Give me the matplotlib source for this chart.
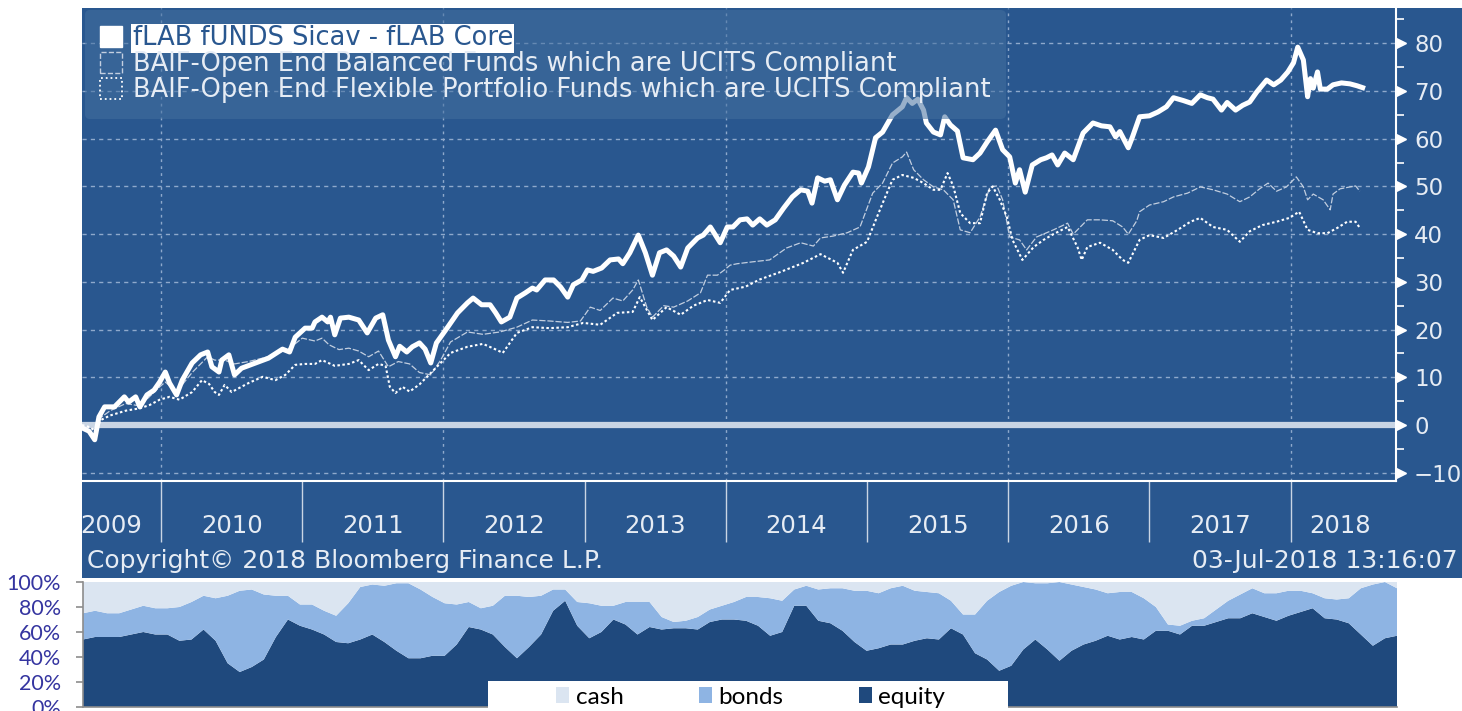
import numpy as np
import matplotlib.pyplot as plt
from matplotlib.patches import Patch, Rectangle
from matplotlib.ticker import MultipleLocator, FuncFormatter

# --- performance lines (date as decimal year, cumulative % return) ---
core = [(2009.44, -0.6), (2009.49, -1.3), (2009.53, -3.1), (2009.56, 1.7), (2009.60, 3.8), (2009.67, 3.8),
        (2009.74, 5.9), (2009.77, 4.8), (2009.82, 5.9), (2009.85, 3.8), (2009.90, 6.3), (2009.95, 7.3),
        (2009.99, 9.0), (2010.03, 11.1), (2010.06, 8.8), (2010.11, 6.3), (2010.15, 9.4), (2010.22, 13.0),
        (2010.28, 14.7), (2010.33, 15.3), (2010.36, 12.2), (2010.41, 11.1), (2010.43, 13.6), (2010.48, 14.7),
        (2010.52, 10.5), (2010.57, 11.9), (2010.67, 13.0), (2010.76, 14.0), (2010.86, 15.9), (2010.91, 15.3),
        (2010.95, 18.4), (2011.02, 20.3), (2011.07, 20.3), (2011.09, 21.6), (2011.14, 22.6), (2011.18, 21.6),
        (2011.20, 22.6), (2011.23, 18.9), (2011.27, 22.4), (2011.33, 22.6), (2011.40, 22.0), (2011.46, 19.3),
        (2011.52, 22.4), (2011.57, 23.1), (2011.61, 17.8), (2011.66, 14.3), (2011.69, 16.5), (2011.74, 15.3),
        (2011.78, 16.4), (2011.83, 17.2), (2011.87, 15.9), (2011.91, 13.0), (2011.95, 17.2), (2012.03, 20.5),
        (2012.10, 23.5), (2012.17, 25.6), (2012.21, 26.6), (2012.27, 25.2), (2012.33, 25.2), (2012.37, 23.5),
        (2012.41, 21.6), (2012.47, 22.6), (2012.52, 26.6), (2012.58, 27.7), (2012.63, 28.7), (2012.66, 28.3),
        (2012.72, 30.4), (2012.78, 30.4), (2012.83, 28.9), (2012.88, 26.8), (2012.92, 29.4), (2012.98, 30.4),
        (2013.02, 32.5), (2013.06, 32.2), (2013.12, 32.9), (2013.18, 34.6), (2013.24, 34.8), (2013.27, 33.8),
        (2013.32, 36.1), (2013.38, 39.8), (2013.43, 36.1), (2013.48, 31.4), (2013.53, 36.1), (2013.58, 36.7),
        (2013.63, 35.4), (2013.68, 33.1), (2013.73, 37.1), (2013.80, 39.2), (2013.84, 39.8), (2013.89, 41.5),
        (2013.96, 38.2), (2014.01, 41.5), (2014.05, 41.5), (2014.10, 43.0), (2014.15, 43.2), (2014.19, 41.9),
        (2014.24, 43.2), (2014.29, 41.9), (2014.35, 43.0), (2014.41, 45.5), (2014.47, 47.8), (2014.53, 49.3),
        (2014.58, 49.0), (2014.61, 46.5), (2014.65, 51.8), (2014.70, 51.1), (2014.74, 51.4), (2014.79, 47.2),
        (2014.84, 50.3), (2014.90, 53.0), (2014.94, 52.8), (2014.96, 50.7), (2015.01, 54.1), (2015.06, 60.2),
        (2015.11, 61.4), (2015.18, 65.0), (2015.25, 66.7), (2015.28, 68.6), (2015.32, 67.4), (2015.36, 68.3),
        (2015.40, 66.0), (2015.42, 63.3), (2015.47, 61.4), (2015.52, 60.8), (2015.55, 64.6), (2015.59, 62.9),
        (2015.64, 61.6), (2015.68, 56.0), (2015.75, 55.6), (2015.80, 57.0), (2015.85, 59.3), (2015.91, 61.8),
        (2015.96, 57.7), (2016.01, 56.2), (2016.05, 50.7), (2016.08, 53.5), (2016.12, 48.8), (2016.17, 54.5),
        (2016.23, 55.6), (2016.27, 56.0), (2016.31, 56.6), (2016.35, 54.5), (2016.40, 57.0), (2016.46, 55.6),
        (2016.53, 61.2), (2016.60, 63.3), (2016.66, 62.7), (2016.72, 62.5), (2016.76, 60.4), (2016.79, 61.5),
        (2016.85, 58.1), (2016.88, 60.4), (2016.93, 64.6), (2017.00, 64.8), (2017.06, 65.6), (2017.12, 66.7),
        (2017.17, 68.6), (2017.24, 68.0), (2017.30, 67.4), (2017.36, 69.2), (2017.41, 68.6), (2017.45, 68.3),
        (2017.51, 66.0), (2017.55, 67.6), (2017.61, 66.0), (2017.66, 67.0), (2017.71, 67.7), (2017.76, 69.8),
        (2017.83, 72.3), (2017.88, 71.3), (2017.93, 72.3), (2017.98, 74.0), (2018.02, 75.9), (2018.05, 79.2),
        (2018.09, 76.5), (2018.12, 68.8), (2018.14, 72.6), (2018.16, 70.6), (2018.19, 74.0), (2018.21, 70.4),
        (2018.26, 70.4), (2018.30, 71.3), (2018.36, 71.7), (2018.42, 71.5), (2018.47, 71.1), (2018.51, 70.7)]

balanced = [(2009.44, 0.0), (2009.50, -0.5), (2009.54, -1.0), (2009.57, 1.5), (2009.64, 3.0), (2009.75, 4.5),
            (2009.85, 4.0), (2009.92, 6.0), (2009.99, 8.0), (2010.03, 9.0), (2010.11, 7.0), (2010.22, 11.0),
            (2010.33, 14.3), (2010.38, 13.6), (2010.45, 13.6), (2010.52, 12.8), (2010.62, 13.3), (2010.76, 14.3),
            (2010.91, 16.1), (2011.00, 18.2), (2011.09, 17.6), (2011.14, 18.2), (2011.19, 16.8), (2011.26, 15.8),
            (2011.33, 16.1), (2011.40, 15.5), (2011.47, 14.3), (2011.54, 15.5), (2011.61, 12.2), (2011.68, 13.3),
            (2011.76, 12.8), (2011.83, 11.0), (2011.91, 10.5), (2011.98, 13.6), (2012.05, 17.4), (2012.17, 19.5),
            (2012.28, 19.0), (2012.40, 19.5), (2012.52, 20.5), (2012.63, 22.0), (2012.75, 21.8), (2012.88, 21.5),
            (2012.97, 21.8), (2013.04, 24.7), (2013.11, 24.0), (2013.20, 26.6), (2013.27, 26.0), (2013.34, 28.3),
            (2013.38, 30.4), (2013.44, 24.7), (2013.48, 22.6), (2013.56, 25.0), (2013.63, 24.7), (2013.73, 26.0),
            (2013.82, 27.7), (2013.87, 31.4), (2013.94, 31.4), (2013.99, 32.5), (2014.03, 33.5), (2014.08, 33.8),
            (2014.19, 34.2), (2014.31, 34.6), (2014.43, 37.1), (2014.53, 38.2), (2014.62, 37.5), (2014.67, 39.2),
            (2014.76, 39.6), (2014.86, 40.3), (2014.95, 41.5), (2015.04, 48.6), (2015.11, 50.7), (2015.18, 54.9),
            (2015.25, 56.2), (2015.28, 57.2), (2015.33, 53.5), (2015.40, 51.4), (2015.47, 49.9), (2015.54, 49.3),
            (2015.61, 47.2), (2015.66, 40.9), (2015.73, 40.3), (2015.80, 43.6), (2015.87, 49.9), (2015.92, 50.1),
            (2015.96, 47.2), (2016.01, 39.4), (2016.08, 38.8), (2016.13, 36.7), (2016.20, 39.4), (2016.32, 40.9),
            (2016.42, 42.3), (2016.46, 40.0), (2016.56, 43.0), (2016.65, 43.0), (2016.74, 42.8), (2016.81, 41.5),
            (2016.85, 40.0), (2016.91, 42.8), (2016.93, 44.7), (2017.00, 46.1), (2017.10, 46.8), (2017.17, 47.8),
            (2017.27, 48.6), (2017.36, 49.9), (2017.45, 49.3), (2017.55, 48.4), (2017.64, 46.8), (2017.71, 47.8),
            (2017.78, 49.5), (2017.84, 50.7), (2017.90, 49.0), (2017.97, 49.9), (2018.04, 52.0), (2018.09, 49.9),
            (2018.12, 47.2), (2018.16, 48.4), (2018.23, 47.2), (2018.28, 45.1), (2018.30, 48.4), (2018.35, 49.5),
            (2018.42, 49.9), (2018.46, 50.1), (2018.49, 49.0)]

flexible = [(2009.44, 0.0), (2009.50, -0.5), (2009.54, -1.5), (2009.57, 1.0), (2009.64, 2.0), (2009.75, 3.0),
            (2009.85, 3.5), (2009.92, 4.2), (2009.99, 5.3), (2010.06, 5.9), (2010.13, 5.3), (2010.22, 6.9),
            (2010.29, 9.4), (2010.34, 8.6), (2010.38, 6.9), (2010.41, 6.3), (2010.45, 8.4), (2010.50, 6.9),
            (2010.55, 7.7), (2010.62, 8.8), (2010.72, 10.1), (2010.81, 9.4), (2010.88, 10.5), (2010.95, 12.6),
            (2011.02, 12.8), (2011.09, 12.8), (2011.14, 13.6), (2011.23, 12.4), (2011.33, 12.8), (2011.40, 13.6),
            (2011.47, 11.5), (2011.54, 12.8), (2011.59, 12.4), (2011.62, 8.0), (2011.66, 6.7), (2011.71, 8.0),
            (2011.76, 7.0), (2011.83, 8.5), (2011.88, 10.0), (2011.93, 11.5), (2012.05, 15.1), (2012.17, 16.4),
            (2012.28, 17.0), (2012.38, 15.7), (2012.42, 15.1), (2012.52, 19.3), (2012.63, 20.5), (2012.75, 20.3),
            (2012.88, 20.5), (2012.99, 21.4), (2013.11, 21.0), (2013.23, 23.5), (2013.34, 23.7), (2013.39, 26.8),
            (2013.48, 22.0), (2013.58, 24.7), (2013.68, 23.1), (2013.77, 25.0), (2013.87, 26.2), (2013.96, 25.6),
            (2014.03, 28.3), (2014.14, 29.0), (2014.24, 30.5), (2014.38, 32.0), (2014.55, 34.0), (2014.67, 35.8),
            (2014.79, 34.0), (2014.83, 31.9), (2014.90, 36.7), (2015.00, 38.4), (2015.07, 43.6), (2015.14, 48.6),
            (2015.18, 51.4), (2015.25, 52.4), (2015.33, 51.8), (2015.40, 50.7), (2015.47, 49.3), (2015.52, 49.3),
            (2015.57, 52.8), (2015.61, 50.1), (2015.66, 44.4), (2015.73, 42.3), (2015.80, 42.3), (2015.85, 48.6),
            (2015.89, 50.0), (2015.94, 47.2), (2015.99, 43.6), (2016.03, 38.8), (2016.10, 34.6), (2016.18, 37.3),
            (2016.25, 38.8), (2016.32, 40.0), (2016.42, 41.5), (2016.49, 37.3), (2016.52, 34.6), (2016.56, 37.3),
            (2016.65, 38.2), (2016.74, 36.7), (2016.81, 34.6), (2016.85, 34.0), (2016.93, 38.8), (2017.00, 39.8),
            (2017.10, 39.2), (2017.20, 40.9), (2017.29, 42.6), (2017.36, 43.4), (2017.45, 41.5), (2017.55, 40.9),
            (2017.64, 38.4), (2017.71, 40.6), (2017.80, 41.9), (2017.90, 42.6), (2017.99, 43.4), (2018.06, 44.7),
            (2018.12, 40.9), (2018.19, 40.2), (2018.26, 40.2), (2018.33, 41.3), (2018.40, 42.6), (2018.46, 42.6),
            (2018.49, 41.3)]

series_labels = ["fLAB fUNDS Sicav - fLAB Core",
                 "BAIF-Open End Balanced Funds which are UCITS Compliant",
                 "BAIF-Open End Flexible Portfolio Funds which are UCITS Compliant"]
years = list(range(2009, 2019))

# --- monthly asset allocation (%), Jun 2009 .. Jul 2018 ---
equity = [54, 56, 56, 56, 58, 60, 58, 58, 53, 54, 62, 53, 35, 28, 32, 38, 56, 70, 65, 62,
          58, 52, 51, 54, 58, 52, 45, 39, 39, 41, 41, 50, 64, 62, 58, 48, 39, 48, 58, 77,
          85, 65, 55, 60, 70, 66, 58, 64, 62, 63, 63, 62, 68, 70, 70,
          69, 65, 57, 60, 81, 81, 69, 67, 61, 52, 45, 47, 50, 50, 53, 55, 54, 63, 58, 43,
          38, 29, 33, 46, 54, 46, 37, 45, 50, 53, 57, 54, 56, 54, 61, 61, 58, 65, 65, 68,
          71, 71, 75, 72, 69, 73, 76, 79, 71, 70, 67, 58, 49, 55, 57]
bonds = [21, 21, 19, 19, 20, 21, 21, 21, 27, 30, 27, 34, 54, 65, 62, 52, 33, 19, 17, 20,
         19, 21, 32, 42, 40, 45, 54, 60, 55, 47, 42, 32, 20, 17, 23, 41, 50, 40, 31, 17,
         9, 19, 28, 21, 11, 18, 26, 20, 10, 5, 6, 10, 10, 11, 14,
         19, 23, 30, 25, 13, 16, 25, 28, 34, 41, 48, 44, 45, 47, 40, 37, 37, 22, 16, 31,
         47, 63, 64, 54, 45, 53, 63, 53, 46, 41, 34, 38, 36, 33, 19, 5, 7, 4, 6, 10,
         14, 19, 20, 19, 22, 20, 17, 12, 16, 16, 20, 37, 49, 45, 38]
cash = [25, 23, 25, 25, 22, 19, 21, 21, 20, 16, 11, 13, 11, 7, 6, 10, 11, 11, 18, 18,
        23, 27, 17, 4, 2, 3, 1, 1, 6, 12, 17, 18, 16, 21, 19, 11, 11, 12, 11, 6,
        6, 16, 17, 19, 19, 16, 16, 16, 28, 32, 31, 28, 22, 19, 16,
        12, 12, 13, 15, 6, 3, 6, 5, 5, 7, 7, 9, 5, 3, 7, 8, 9, 15, 26, 26,
        15, 8, 3, 0, 1, 1, 0, 2, 4, 6, 9, 8, 8, 13, 20, 34, 35, 31, 29, 22,
        15, 10, 5, 9, 9, 7, 7, 9, 13, 14, 13, 5, 2, 0, 5]
alloc_labels = ["cash", "bonds", "equity"]

PANEL = "#29578f"
TXT = "#e6ecf4"
GRID = "#8fa9cc"

W, H = 1462, 711
fig = plt.figure(figsize=(W / 100, H / 100), dpi=100)
fx = lambda px: px / W
fy = lambda py: 1 - py / H

# bloomberg panel background (behind the axes)
fig.patches.append(Rectangle((fx(82), fy(578)), 1 - fx(82), fy(8) - fy(578),
                             transform=fig.transFigure, facecolor=PANEL, edgecolor="none", zorder=-10))

ax = fig.add_axes([fx(82), fy(481), fx(1396) - fx(82), fy(8) - fy(481)])
ax.set_facecolor("none")
ax.set_xlim(2009.44, 2018.746)
ax.set_ylim(-11.74, 87.4)

for v in range(-10, 90, 10):
    ax.axhline(v, color=GRID, lw=1, ls=(0, (3, 3)), zorder=1)
for yr in range(2010, 2019, 2):
    ax.axvline(yr, color=GRID, lw=1, ls=(0, (2, 3)), zorder=1)
ax.axhline(0, color="#c9d5e4", lw=4.5, zorder=2)

ct, cv = zip(*core)
bt, bv = zip(*balanced)
ft, fv = zip(*flexible)
ax.plot(bt, bv, color="#c3cfe0", lw=0.9, ls=(0, (5, 1.5)), zorder=3)
ax.plot(ft, fv, color="white", lw=1.5, ls=(0, (1.2, 1.2)), zorder=3)
ax.plot(ct, cv, color="white", lw=3.6, solid_joinstyle="round", zorder=4)

# axis frame and right-hand scale
for s in ["left", "top"]:
    ax.spines[s].set_visible(False)
for s in ["right", "bottom"]:
    ax.spines[s].set_color("white")
    ax.spines[s].set_linewidth(1.5)
ax.set_xticks([])
ax.yaxis.tick_right()
ax.set_yticks(range(-10, 90, 10))
ax.yaxis.set_minor_locator(MultipleLocator(5))
ax.tick_params(axis="y", which="major", length=0, pad=13, labelsize=16.5, labelcolor=TXT)
ax.tick_params(axis="y", which="minor", length=6, width=1.2, color="white", direction="out")
ax.plot([1.004] * 10, range(-10, 90, 10), marker=">", ms=7, color="white", ls="none",
        transform=ax.get_yaxis_transform(), clip_on=False)

# year band under the plot
ax.vlines(range(2010, 2019), -0.129, 0, colors="#c9d5e4", lw=1,
          transform=ax.get_xaxis_transform(), clip_on=False)
label_pos = [2009.65] + [y + 0.5 for y in years[1:-1]] + [2018.35]
for yr, xp in zip(years, label_pos):
    ax.text(xp, -0.095, str(yr), transform=ax.get_xaxis_transform(), ha="center", va="center",
            fontsize=17.5, color=TXT)
fig.text(fx(87), fy(561), "Copyright\u00a9 2018 Bloomberg Finance L.P.", fontsize=18, color=TXT,
         ha="left", va="center")
fig.text(fx(1458), fy(561), "03-Jul-2018 13:16:07", fontsize=18, color=TXT, ha="right", va="center")

# legend
handles = [Patch(facecolor="white", edgecolor="white"),
           Patch(facecolor="none", edgecolor="#c3cfe0", linestyle="--", lw=1),
           Patch(facecolor="none", edgecolor="white", linestyle=":", lw=1.3)]
leg = ax.legend(handles, series_labels, loc="upper left", bbox_to_anchor=(0.0023, 0.996),
                fontsize=18.5, labelcolor=TXT, frameon=True, fancybox=True, facecolor="#44709f",
                edgecolor="none", framealpha=0.55, handlelength=0.85, handleheight=0.85,
                handletextpad=0.4, labelspacing=0.0, borderpad=0.6, borderaxespad=0)
first = leg.get_texts()[0]
first.set_color(PANEL)
first.set_bbox(dict(facecolor="white", edgecolor="none", pad=1))

# --- allocation chart ---
ax2 = fig.add_axes([fx(83), fy(707), fx(1397) - fx(83), fy(582) - fy(707)])
months = np.arange(len(equity))
ax2.stackplot(months, equity, bonds, cash, colors=["#1f497d", "#8eb4e3", "#dbe5f1"], lw=0)
ax2.set_xlim(0, len(equity) - 1)
ax2.set_ylim(0, 100)
ax2.set_xticks([])
ax2.set_yticks(range(0, 101, 20))
ax2.yaxis.set_major_formatter(FuncFormatter(lambda v, p: "%d%%" % v))
ax2.tick_params(axis="y", length=5, width=1.2, color="#8c8c8c", labelsize=15.5,
                labelcolor="#3535a0", pad=11)
for lbl in ax2.get_yticklabels():
    lbl.set_family(["Lato", "DejaVu Sans"])
for s in ["top", "right"]:
    ax2.spines[s].set_visible(False)
for s in ["left", "bottom"]:
    ax2.spines[s].set_color("#8c8c8c")
    ax2.spines[s].set_linewidth(1.2)

ax2.add_patch(Rectangle((0.308, -0.1), 0.396, 0.31, transform=ax2.transAxes, facecolor="white",
                        edgecolor="none", clip_on=False, zorder=5))
h2 = [Patch(facecolor="#dbe5f1"), Patch(facecolor="#8eb4e3"), Patch(facecolor="#1f497d")]
ax2.legend(h2, alloc_labels, loc="center", bbox_to_anchor=(0.508, 0.08), ncol=3, frameon=False,
           prop={"family": ["Lato", "DejaVu Sans"], "size": 17.5}, handlelength=0.55, handleheight=0.65,
           handletextpad=0.25, columnspacing=3.1).set_zorder(6)

fig.savefig("out.png", dpi=100)
